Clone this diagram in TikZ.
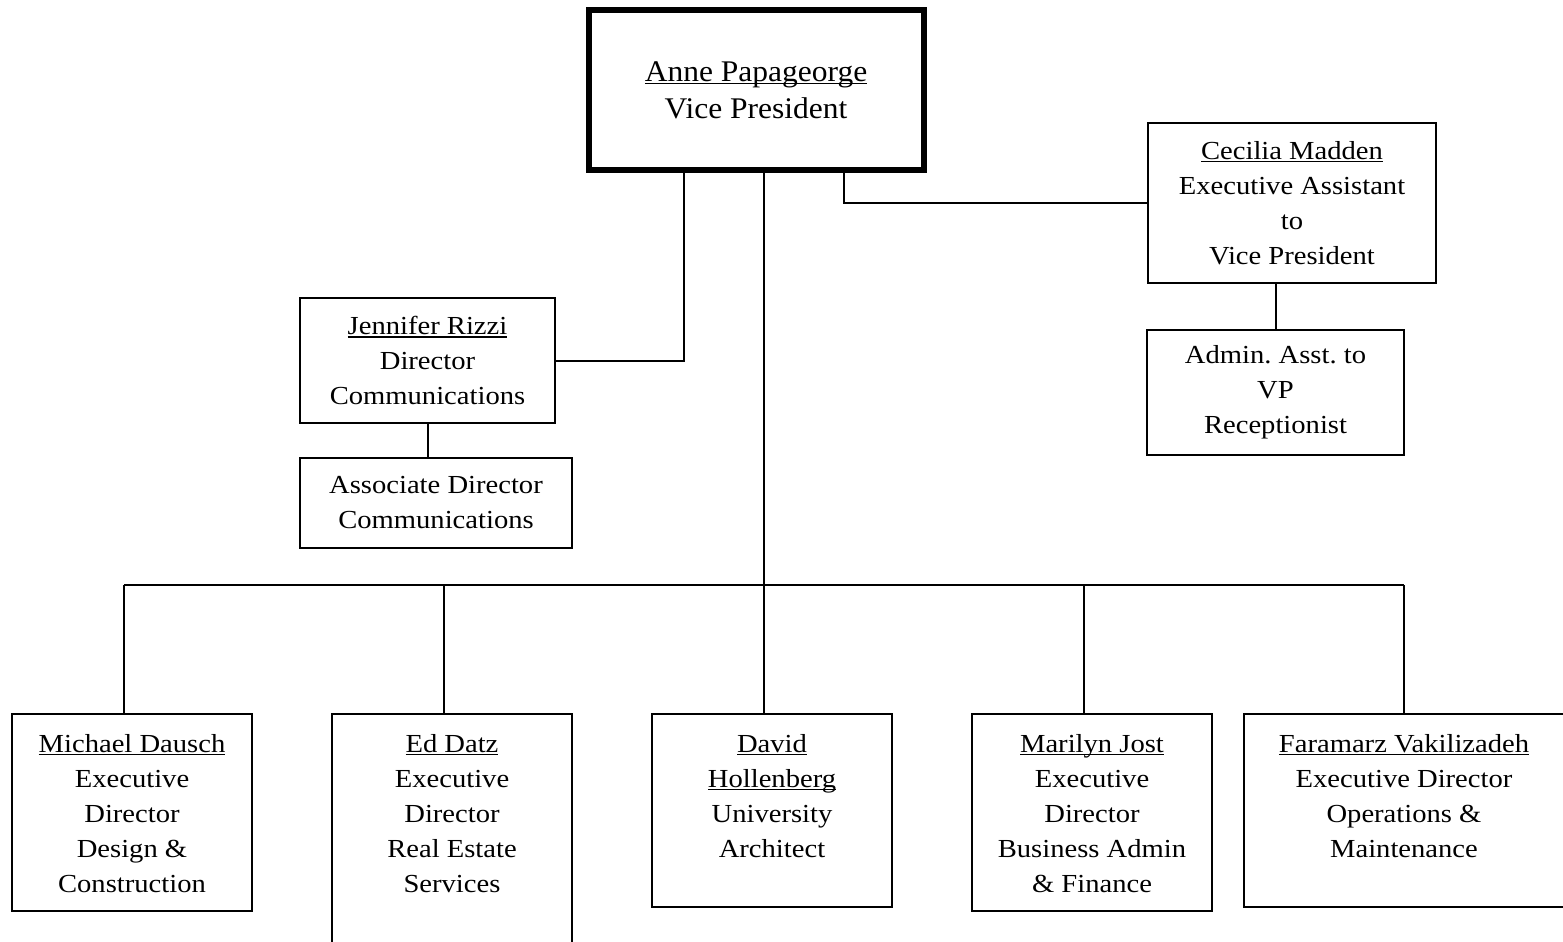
\documentclass[tikz,border=0pt]{standalone}
\usepackage{fontspec}
\setmainfont[FakeStretch=1.1]{Liberation Serif}
\newfontfamily\vpfont[FakeStretch=1.05]{Liberation Serif}
\newcommand\nm[1]{\setbox0\hbox{#1}\rlap{\rule[-3pt]{\wd0}{1.3pt}}\box0}
\frenchspacing
\begin{document}
\begin{tikzpicture}[x=1pt, y=-1pt, line width=2pt,
  box/.style={draw, rectangle, inner sep=0pt, align=center, font=\fontsize{26}{35}\selectfont},
  txt/.style={inner sep=0pt, align=center, font=\fontsize{26}{35}\selectfont},
  link/.style={draw, line width=2pt}]
\useasboundingbox (0,0) rectangle (1563,942);
\clip (0,0) rectangle (1563,942);

% top level
\node[box, minimum width=335pt, minimum height=160pt, line width=6pt,
      font=\vpfont\fontsize{30}{37}\selectfont] (vp) at (756,90)
      {\nm{Anne Papageorge}\\Vice President};

% staff boxes
\node[box, minimum width=255pt, minimum height=125pt] (jen) at (427.5,360.5)
      {\nm{Jennifer Rizzi}\\Director\\Communications};
\node[box, minimum width=272pt, minimum height=90pt] (assoc) at (436,503)
      {Associate Director\\Communications};
\node[box, minimum width=288pt, minimum height=160pt] (cec) at (1292,203)
      {\nm{Cecilia Madden}\\Executive Assistant\\to\\Vice President};
\node[box, minimum width=257pt, minimum height=125pt] (admin) at (1275.5,392.5)
      {Admin. Asst. to\\VP\\Receptionist};

% bottom boxes
\node[box, minimum width=240pt, minimum height=197pt] (mich) at (132,812.5) {};
\node[box, minimum width=240pt, minimum height=246pt] (ed) at (452,837) {};
\node[box, minimum width=240pt, minimum height=193pt] (dav) at (772,810.5) {};
\node[box, minimum width=240pt, minimum height=197pt] (mar) at (1092,812.5) {};
\node[box, minimum width=336pt, minimum height=193pt] (far) at (1412,810.5) {};

\node[txt, anchor=north] (michT) at ([yshift=-20pt]mich.north)
      {\nm{Michael Dausch}\\Executive\\Director\\Design \&\\Construction};
\node[txt, anchor=north] (edT) at ([yshift=-20pt]ed.north)
      {\nm{Ed Datz}\\Executive\\Director\\Real Estate\\Services};
\node[txt, anchor=north] (davT) at ([yshift=-20pt]dav.north)
      {\nm{David}\\\nm{Hollenberg}\\University\\Architect};
\node[txt, anchor=north] (marT) at ([yshift=-20pt]mar.north)
      {\nm{Marilyn Jost}\\Executive\\Director\\Business Admin\\\& Finance};
\node[txt, anchor=north] (farT) at ([xshift=-8pt,yshift=-20pt]far.north)
      {\nm{Faramarz Vakilizadeh}\\Executive Director\\Operations \&\\Maintenance};

% connectors
\coordinate (bus) at (764,585);
\coordinate (busL) at (124,585);
\coordinate (busR) at (1404,585);
\draw[link] ([xshift=-72pt]vp.south) |- (jen.east);
\draw[link] ([xshift=88pt]vp.south) |- (cec.west);
\draw[link] ([xshift=8pt]vp.south) -- (bus);
\draw[link] (jen.south) -- (jen.south |- assoc.north);
\draw[link] (admin.north) -- (admin.north |- cec.south);
\draw[link] (busL) -- (busR);
\foreach \b in {mich,ed,dav,mar,far}
  \draw[link] ([xshift=-8pt]\b.north) -- ([xshift=-8pt]\b.north |- bus);
\end{tikzpicture}
\end{document}
